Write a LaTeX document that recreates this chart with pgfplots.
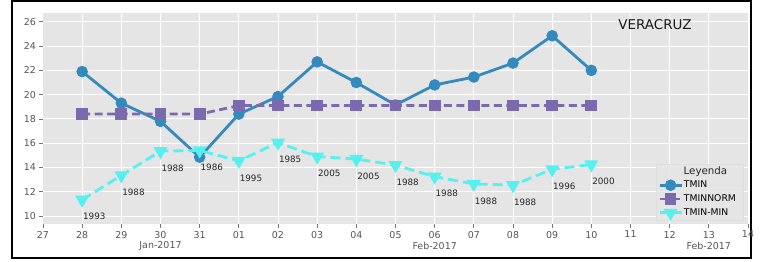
\documentclass[border=0pt]{standalone}
\usepackage{fontspec}
\setmainfont{DejaVu Sans}
\usepackage{pgfplots}
\pgfplotsset{compat=1.18}
\usepackage{pgfplotstable}
\definecolor{bg}{HTML}{E5E5E5}
\definecolor{cblue}{HTML}{348ABD}
\definecolor{cpurp}{HTML}{7B6BAE}
\definecolor{ccyan}{HTML}{57F0F0}
\definecolor{tickc}{HTML}{555555}
\pgfplotstableread{
x tmin tnorm tmm yr
1 21.9 18.4 11.35 1993
2 19.3 18.4 13.35 1988
3 17.8 18.4 15.35 1988
4 14.85 18.4 15.4 1986
5 18.4 19.1 14.55 1995
6 19.85 19.1 16.05 1985
7 22.7 19.1 14.9 2005
8 21.0 19.1 14.7 2005
9 19.15 19.1 14.2 1988
10 20.8 19.1 13.25 1988
11 21.45 19.1 12.65 1988
12 22.6 19.1 12.55 1988
13 24.85 19.1 13.85 1996
14 22.0 19.1 14.25 2000
}\data
\begin{document}
\begin{tikzpicture}
\path[use as bounding box] (-43bp,-38bp) rectangle (722bp,224bp);
\draw[black, line width=2.2bp] (-31bp,-34bp) rectangle (708bp,223bp);
\begin{axis}[
  scale only axis, width=705bp, height=211.3bp,
  xmin=0, xmax=18, ymin=9.35, ymax=26.75,
  axis background/.style={fill=bg},
  axis line style={draw=none},
  grid=major, grid style={white, line width=1bp},
  xtick={0,...,18},
  xticklabels={27,28,29,30,31,01,02,03,04,05,06,07,08,09,10,11,12,13,14},
  ytick={10,12,...,26},
  xtick pos=left, ytick pos=left,
  tick align=outside, major tick length=3.5bp,
  tick style={color=tickc!80, line width=0.8bp},
  ticklabel style={font=\fontsize{9.5}{11}\selectfont, text=tickc},
  /pgf/number format/assume math mode=true,
  clip=false,
  legend cell align=left,
  legend image code/.code={\draw[mark repeat=2, mark phase=2, #1] plot coordinates {(0bp,0bp) (11bp,0bp) (22bp,0bp)};},
  legend style={draw=none, fill=none, at={(axis description cs:0.8723,0.2086)}, anchor=north west,
    font=\fontsize{9.3}{11}\selectfont, inner sep=0pt, row sep=3.5bp, nodes={inner sep=1bp}},
]
\draw[fill=bg, fill opacity=0.85, draw=white!75!gray, line width=0.6bp]
  (axis description cs:0.8705,0.019) rectangle (axis description cs:0.9933,0.2825);
\node[font=\fontsize{10.3}{12}\selectfont, text=black!85] at (axis description cs:0.9396,0.2455) {Leyenda};
\addplot[cblue, line width=2.8bp, mark=*, mark size=4.3bp, mark options={solid}]
  table[x=x, y=tmin] {\data};
\addlegendentry{TMIN}
\addplot[cpurp, line width=2.8bp, dash pattern=on 8bp off 4.5bp, mark=square*, mark size=4.5bp, mark options={solid}]
  table[x=x, y=tnorm] {\data};
\addlegendentry{TMINNORM}
\addplot[ccyan, line width=2.8bp, dash pattern=on 10bp off 5bp, mark=triangle*, mark size=5.3bp, mark options={solid, rotate=180}]
  table[x=x, y=tmm] {\data};
\addlegendentry{TMIN-MIN}
\addplot[draw=none, mark=none, forget plot, nodes near coords, point meta=explicit symbolic,
  every node near coord/.style={anchor=north west, inner sep=0pt, xshift=0.8bp, yshift=-13.5bp,
    font=\fontsize{8.8}{10}\selectfont, text=black!85}]
  table[x=x, y=tmm, meta=yr] {\data};
\node[font=\fontsize{13.5}{15}\selectfont, text=black!90] at (axis description cs:0.868,0.942) {VERACRUZ};
\node[font=\fontsize{9.5}{11}\selectfont, text=tickc] at (axis cs:3,9.35) [yshift=-21.5bp] {Jan-2017};
\node[font=\fontsize{9.5}{11}\selectfont, text=tickc] at (axis cs:10,9.35) [yshift=-21.5bp] {Feb-2017};
\node[font=\fontsize{9.5}{11}\selectfont, text=tickc] at (axis cs:17,9.35) [yshift=-21.5bp] {Feb-2017};
\end{axis}
\end{tikzpicture}
\end{document}
